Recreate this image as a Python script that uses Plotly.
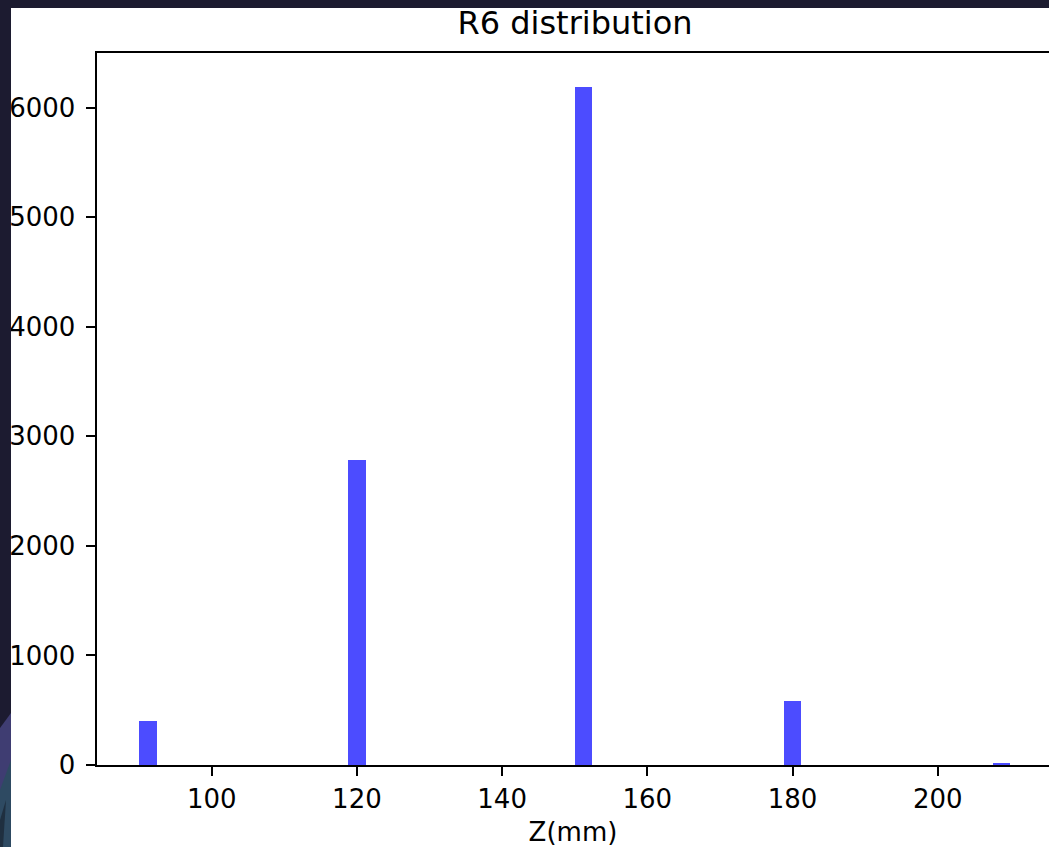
import numpy as np
import plotly.graph_objects as go

# Z positions (mm) of the R6 samples and how many samples sit at each one
z_values = [90, 120, 150, 180, 210]
z_counts = [404, 2781, 6190, 584, 18]

# histogram binning (50 equal bins over the data range)
n_bins = 50
counts, edges = np.histogram(z_values, bins=n_bins, range=(min(z_values), max(z_values)),
                             weights=z_counts)
centers = (edges[:-1] + edges[1:]) / 2
widths = np.diff(edges)

x_ticks = [100, 120, 140, 160, 180, 200]
y_ticks = [0, 1000, 2000, 3000, 4000, 5000, 6000]

W, H = 1049, 847
L, T, B = 97, 53, 82
plot_w = W - L
plot_h = H - T - B


def px_x(px):
    return (px - L) / plot_w


def px_y(py):
    return (H - B - py) / plot_h


FONT = "DejaVu Sans"
DARK = "#1c1b30"

fig = go.Figure()
fig.add_trace(go.Bar(
    x=centers, y=counts, width=widths,
    marker=dict(color="rgba(0,0,255,0.7)", line=dict(width=0)),
    showlegend=False,
))

x_lo = 84.2
x_hi = x_lo + plot_w / 7.26

fig.update_layout(
    width=W, height=H,
    margin=dict(l=L, r=0, t=T, b=B, pad=0),
    paper_bgcolor="white", plot_bgcolor="white",
    bargap=0,
    font=dict(family=FONT, size=26, color="black"),
    title=dict(text="R6 distribution", font=dict(family=FONT, size=32, color="black"),
               x=575 / W, xref="container", xanchor="center",
               y=1 - 23 / H, yref="container", yanchor="middle"),
    xaxis=dict(range=[x_lo, x_hi], tickvals=x_ticks, ticktext=[str(v) for v in x_ticks],
               showgrid=False, zeroline=False, showline=True, linecolor="black",
               linewidth=1.8, mirror=True, ticks="outside", ticklen=9.5, tickwidth=1.8,
               tickcolor="black", ticklabelstandoff=0,
               title=dict(text="Z(mm)", standoff=14, font=dict(family=FONT, size=26))),
    yaxis=dict(range=[0, max(z_counts) * 1.05], tickvals=y_ticks,
               ticktext=[str(v) for v in y_ticks],
               showgrid=False, zeroline=False, showline=True, linecolor="black",
               linewidth=1.8, mirror=False, ticks="outside", ticklen=9.5, tickwidth=1.8,
               tickcolor="black", ticklabelstandoff=5),
)

# dark window frame along the top and left edges
shapes = [
    dict(type="rect", xref="paper", yref="paper", x0=px_x(0), x1=px_x(W),
         y0=px_y(8), y1=px_y(0), fillcolor=DARK, line=dict(width=0), layer="above"),
    dict(type="rect", xref="paper", yref="paper", x0=px_x(0), x1=px_x(11),
         y0=px_y(H), y1=px_y(0), fillcolor=DARK, line=dict(width=0), layer="above"),
]


def poly(points, color):
    d = "M " + " L ".join(f"{px_x(a):.5f},{px_y(b):.5f}" for a, b in points) + " Z"
    return dict(type="path", xref="paper", yref="paper", path=d, fillcolor=color,
                line=dict(width=0), layer="above")


# desktop wallpaper peeking through at the lower left
shapes.append(poly([(0, 728), (11, 713), (11, 847), (0, 847)], "#3f3d72"))
shapes.append(poly([(0, 790), (11, 760), (11, 847), (0, 847)], "#2e4a62"))
shapes.append(poly([(0, 820), (6, 800), (3, 847), (0, 847)], "#1f2f40"))
fig.update_layout(shapes=shapes)

fig.write_html("out.html")
